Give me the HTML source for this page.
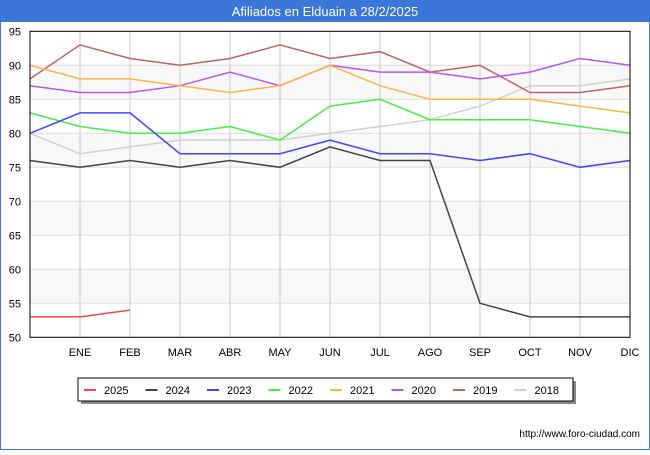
<!DOCTYPE html>
<html><head><meta charset="utf-8"><style>
body{margin:0;width:650px;height:450px;overflow:hidden;background:#fff;font-family:"Liberation Sans",sans-serif;}
</style></head><body>
<svg id="c" width="650" height="450" xmlns="http://www.w3.org/2000/svg">
<rect x="0" y="0" width="650" height="450" fill="#fff" stroke="#3a77d8" stroke-width="2"/>
<rect x="0" y="0" width="650" height="22" fill="#3a77d8"/>
<text x="325" y="16" text-anchor="middle" font-size="13" fill="#fff">Afiliados en Elduain a 28/2/2025</text>
<g id="plot"></g>
<text x="640" y="437" text-anchor="end" font-size="10" fill="#000">http://www.foro-ciudad.com</text>
</svg>
<script>
const months=["","ENE","FEB","MAR","ABR","MAY","JUN","JUL","AGO","SEP","OCT","NOV","DIC"];
const yTicks=[50,55,60,65,70,75,80,85,90,95];
const seriesNames=["2025","2024","2023","2022","2021","2020","2019","2018"];
const colors=["#ff4444","#444444","#4444ff","#44ee44","#ffb444","#bb55ee","#bb6666","#d0d0d0"];
const s2018=[80,77,78,79,79,79,80,81,82,84,87,87,88];
const s2019=[88,93,91,90,91,93,91,92,89,90,86,86,87];
const s2020=[87,86,86,87,89,87,90,89,89,88,89,91,90];
const s2021=[90,88,88,87,86,87,90,87,85,85,85,84,83];
const s2022=[83,81,80,80,81,79,84,85,82,82,82,81,80];
const s2023=[80,83,83,77,77,77,79,77,77,76,77,75,76];
const s2024=[76,75,76,75,76,75,78,76,76,55,53,53,53];
const s2025=[53,53,54];
const values=[s2025,s2024,s2023,s2022,s2021,s2020,s2019,s2018];
const NS="http://www.w3.org/2000/svg";
const L=30,R=630,T=31.3,B=337.3,yMin=50,yMax=95;
const xs=i=>L+i*(R-L)/(months.length-1);
const ys=v=>B-(v-yMin)*(B-T)/(yMax-yMin);
const g=document.getElementById('plot');
function mk(t,a){const e=document.createElementNS(NS,t);for(const k in a)e.setAttribute(k,a[k]);g.appendChild(e);return e;}
for(let i=0;i<yTicks.length-1;i++){
  const r=mk('rect',{x:L,y:ys(yTicks[i+1]),width:R-L,height:ys(yTicks[i])-ys(yTicks[i+1]),fill:(i%2==1)?'#f8f8f8':'#fff'});
  
  
}
yTicks.forEach(v=>{
  const l=mk('line',{x1:L,x2:R,y1:ys(v),y2:ys(v),stroke:'#dddddd'});
  
  
  const t=mk('text',{x:L-9,y:ys(v)+4,'text-anchor':'end','font-size':11,fill:'#000'});
  t.textContent=v;
  
  
});
months.forEach((m,i)=>{
  if(i>0&&i<months.length-1){
    const l=mk('line',{x1:xs(i),x2:xs(i),y1:T,y2:B,stroke:'#c8c8c8'});
    
    
  }
  if(m){
    const t=mk('text',{x:xs(i),y:356,'text-anchor':'middle','font-size':11,fill:'#000'});
    t.textContent=m;
    
    
  }
});
for(let k=values.length-1;k>=0;k--){
  const p=mk('polyline',{points:values[k].map((v,i)=>xs(i)+','+ys(v)).join(' '),fill:'none',stroke:colors[k],'stroke-width':1.5});
  
  
}
const fr=mk('rect',{x:L,y:T,width:R-L,height:B-T,fill:'none',stroke:'#000'});


// legend
const sh=mk('rect',{x:81,y:381,width:495,height:23,fill:'#888'});


const lb=mk('rect',{x:78,y:378,width:495,height:23,fill:'#fff',stroke:'#000'});


seriesNames.forEach((n,i)=>{
  const x0=84+i*61.5;
  const l=mk('line',{x1:x0,x2:x0+12,y1:390,y2:390,stroke:colors[i],'stroke-width':2});
  
  
  const t=mk('text',{x:x0+20,y:394,'font-size':11,fill:'#000'});
  t.textContent=n;
  
  
});
</script>
</body></html>
